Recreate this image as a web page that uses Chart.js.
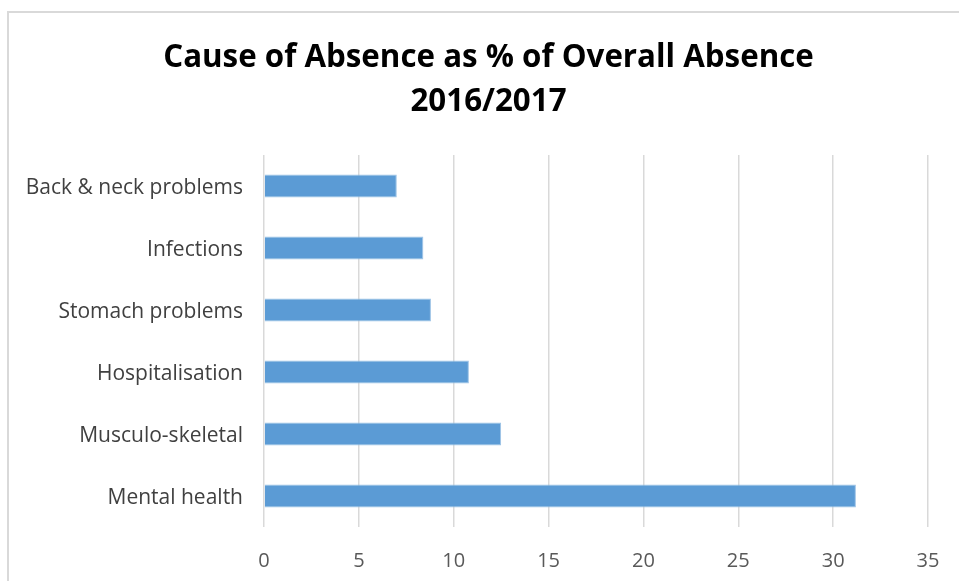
<!DOCTYPE html>
<html>
<head>
<meta charset="utf-8">
<script src="https://cdn.jsdelivr.net/npm/chart.js@4"></script>
<style>
  html, body { margin: 0; padding: 0; background: #fff; }
  #frame { position: absolute; left: 7px; top: 11px; width: 1200px; height: 1200px; border: 2px solid #d9d9d9; box-sizing: border-box; }
  #wrap { position: absolute; left: 0; top: 0; width: 959px; height: 581px; }
</style>
</head>
<body>
<div id="frame"></div>
<div id="wrap"><canvas id="c" width="959" height="581"></canvas></div>
<script>
const titleLines = ['Cause of Absence as % of Overall Absence', '2016/2017'];
const categories = ['Back & neck problems', 'Infections', 'Stomach problems', 'Hospitalisation', 'Musculo-skeletal', 'Mental health'];
const values = [7.0, 8.4, 8.8, 10.8, 12.5, 31.2];
const xTicks = [0, 5, 10, 15, 20, 25, 30, 35];

// Shift the title block so it is centred where the original (wider) chart frame centres it
const titleShift = {
  id: 'titleShift',
  afterLayout(chart) {
    const t = chart.titleBlock;
    if (t) { t.left = 49; t.right = 928; }
  }
};

new Chart(document.getElementById('c'), {
  type: 'bar',
  plugins: [titleShift],
  data: {
    labels: categories,
    datasets: [{
      data: values,
      backgroundColor: '#5B9BD5',
      borderColor: '#9DC3E6',
      borderWidth: 1,
      categoryPercentage: 1,
      barPercentage: 0.37
    }]
  },
  options: {
    indexAxis: 'y',
    responsive: false,
    animation: false,
    layout: { padding: { top: 36, left: 7, right: 31, bottom: 0 } },
    plugins: {
      legend: { display: false },
      tooltip: { enabled: false },
      title: {
        display: true,
        text: titleLines,
        color: '#000000',
        font: { family: 'Open Sans', size: 31.3, weight: 'bold', lineHeight: 44 / 31.3 },
        padding: { top: 0, bottom: 31 }
      }
    },
    scales: {
      x: {
        min: xTicks[0],
        max: xTicks[xTicks.length - 1],
        afterBuildTicks: (s) => { s.ticks = xTicks.map(v => ({ value: v })); },
        afterFit: (s) => { s.height = 54; },
        grid: { color: '#d9d9d9', lineWidth: 1.5, drawTicks: true, tickLength: 20, tickColor: 'rgba(0,0,0,0)' },
        border: { display: false },
        ticks: { color: '#595959', font: { family: 'Open Sans', size: 20 }, padding: 2 }
      },
      y: {
        afterFit: (s) => { s.width = 257; },
        grid: { display: false, drawTicks: false },
        border: { display: false },
        ticks: { color: '#404040', font: { family: 'Open Sans', size: 21 }, padding: 21, labelOffset: 2 }
      }
    }
  }
});
</script>
</body>
</html>
